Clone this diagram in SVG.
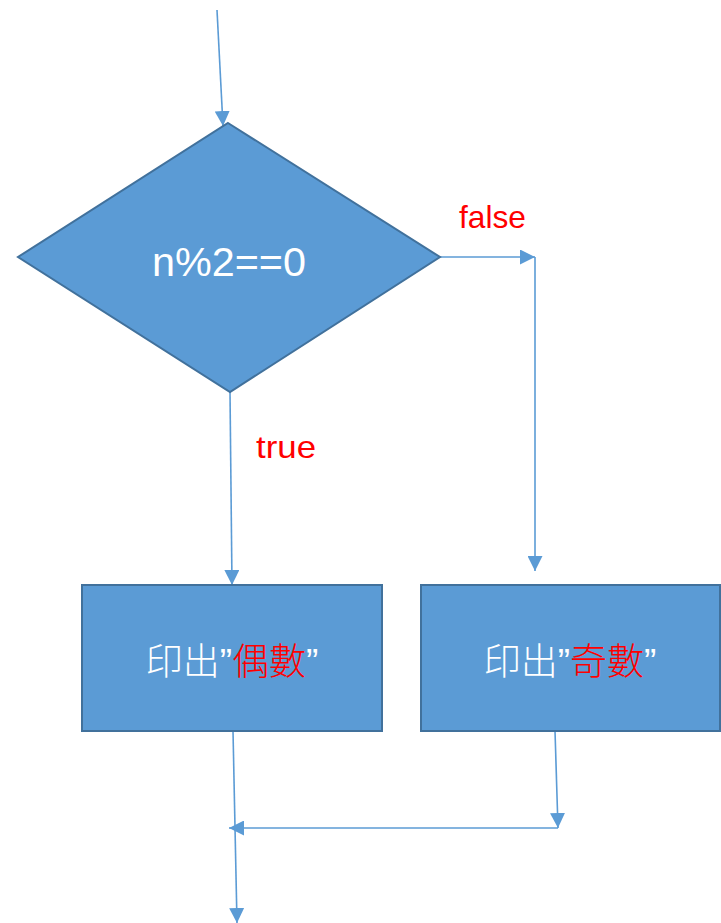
<svg xmlns="http://www.w3.org/2000/svg" width="721" height="923" viewBox="0 0 721 923">
<style>
.shape{fill:#5B9BD5;stroke:#41719C;stroke-width:2}
.conn{fill:none;stroke:#5B9BD5;stroke-width:1.6}
.lbl{font-family:"Liberation Sans","Noto Sans CJK TC",sans-serif;fill:#FF0000}
.wt{font-family:"Liberation Sans","Noto Sans CJK TC",sans-serif;fill:#FFFFFF}
.box{font-weight:300}
.red{fill:#FF0000}
</style>
<defs>
<marker id="ahb" viewBox="0 0 10 10" refX="10" refY="5" markerWidth="15" markerHeight="15" markerUnits="userSpaceOnUse" orient="auto">
<path d="M0,0 L10,5 L0,10 Z" fill="#5B9BD5"/>
</marker>
</defs>
<g id="connectors">
<line class="conn" x1="217" y1="10" x2="223" y2="126" marker-end="url(#ahb)"/>
<polyline class="conn" points="440,257 535,257" marker-end="url(#ahb)"/>
<polyline class="conn" points="535,257 535,571" marker-end="url(#ahb)"/>
<line class="conn" x1="230" y1="392" x2="232" y2="585" marker-end="url(#ahb)"/>
<line class="conn" x1="233" y1="731" x2="237" y2="923" marker-end="url(#ahb)"/>
<line class="conn" x1="555" y1="731" x2="558" y2="828" marker-end="url(#ahb)"/>
<line class="conn" x1="558" y1="828" x2="229" y2="828" marker-end="url(#ahb)"/>
</g>
<g id="decision">
<polygon class="shape" points="228,123 440,257 230,392 18,257"/>
<text class="wt" x="229" y="276" font-size="40" text-anchor="middle" textLength="154" lengthAdjust="spacingAndGlyphs">n%2==0</text>
</g>
<g id="label-false">
<text class="lbl" x="459" y="228" font-size="32" textLength="67" lengthAdjust="spacingAndGlyphs">false</text>
</g>
<g id="label-true">
<text class="lbl" x="256" y="458" font-size="32" textLength="60" lengthAdjust="spacingAndGlyphs">true</text>
</g>
<g id="print-even">
<rect class="shape" x="82" y="585" width="300" height="146"/>
<text class="wt box" x="232" y="675" font-size="37" text-anchor="middle">印出”<tspan class="red">偶數</tspan>”</text>
</g>
<g id="print-odd">
<rect class="shape" x="421" y="585" width="299" height="146"/>
<text class="wt box" x="570" y="675" font-size="37" text-anchor="middle">印出”<tspan class="red">奇數</tspan>”</text>
</g>
</svg>
